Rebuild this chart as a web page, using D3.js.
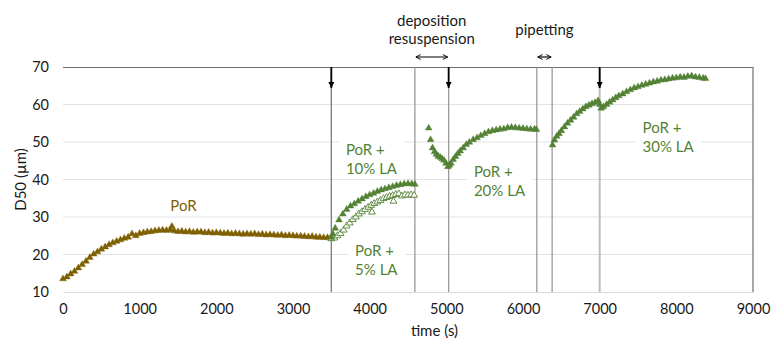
<!DOCTYPE html>
<html>
<head>
<meta charset="utf-8">
<script src="https://cdn.jsdelivr.net/npm/d3@7"></script>
<style>
  body { margin: 0; background: #fff; }
  svg { font-family: Lato, "Open Sans", sans-serif; }
</style>
</head>
<body>
<div id="chart"></div>
<script>
// measured data: [time (s), D50 (µm)]
const porData = [
  [0,13.5],[50,14.0],[100,14.8],[150,15.5],[200,16.4],[250,17.3],[300,18.2],[350,19.2],[400,20.1],[450,20.7],
  [500,21.4],[550,22.0],[600,22.6],[650,23.1],[700,23.5],[750,23.9],[800,24.3],[850,24.6],[900,25.5],[950,25.0],
  [1000,25.6],[1050,25.8],[1100,26.0],[1150,26.1],[1200,26.3],[1250,26.4],[1300,26.5],[1350,26.4],[1400,26.6],[1420,27.5],
  [1450,26.3],[1500,26.1],[1550,26.2],[1600,26.0],[1650,26.1],[1700,25.9],[1750,26.0],[1800,26.0],[1850,25.8],[1900,25.9],
  [1950,25.7],[2000,25.8],[2050,25.7],[2100,25.6],[2150,25.7],[2200,25.5],[2250,25.6],[2300,25.5],[2350,25.4],[2400,25.5],
  [2450,25.4],[2500,25.5],[2550,25.3],[2600,25.4],[2650,25.2],[2700,25.3],[2750,25.2],[2800,25.1],[2850,25.2],[2900,25.0],
  [2950,25.1],[3000,25.0],[3050,24.9],[3100,24.9],[3150,24.8],[3200,24.7],[3250,24.8],[3300,24.6],[3350,24.6],[3400,24.5],
  [3450,24.5],[3500,24.3]
];
const la10Data = [
  [3500,24.6],[3520,25.5],[3550,27.0],[3600,29.2],[3650,30.8],[3700,32.0],[3750,32.9],[3800,33.5],[3850,34.2],[3900,34.8],
  [3950,35.4],[4000,35.9],[4050,36.3],[4100,36.8],[4150,37.2],[4200,37.5],[4250,37.8],[4300,38.1],[4350,38.4],[4400,38.6],
  [4450,38.8],[4500,38.9],[4550,38.8],[4590,38.7]
];
const la5Data = [
  [3500,24.2],[3540,24.4],[3580,25.0],[3620,25.6],[3660,26.5],[3700,27.6],[3740,28.4],[3780,29.3],[3820,30.0],[3860,30.8],
  [3900,31.4],[3940,32.0],[3980,32.6],[4020,33.1],[4030,31.3],[4060,33.6],[4100,34.0],[4140,34.4],[4180,34.9],[4220,35.2],
  [4260,35.5],[4300,35.7],[4310,34.2],[4340,36.0],[4380,36.2],[4420,35.6],[4460,35.9],[4500,35.8],[4540,35.9],[4580,35.8]
];
const la20Data = [
  [4770,53.7],[4795,50.6],[4820,48.4],[4845,47.4],[4870,46.7],[4895,46.2],[4920,45.9],[4945,45.5],[4970,45.1],[4995,44.3],
  [5020,43.4],[5040,43.8],[5060,44.3],[5090,45.3],[5120,46.1],[5150,46.9],[5180,47.6],[5220,48.4],[5260,49.3],[5300,49.9],
  [5350,50.6],[5400,51.1],[5450,51.7],[5500,52.2],[5550,52.7],[5600,53.0],[5650,53.2],[5700,53.4],[5750,53.5],[5800,53.8],
  [5850,53.9],[5900,53.8],[5950,53.7],[6000,53.6],[6050,53.5],[6100,53.4],[6150,53.4],[6175,53.3]
];
const la30Data = [
  [6385,49.2],[6410,50.5],[6440,51.5],[6470,52.2],[6500,53.0],[6540,54.0],[6580,55.0],[6620,55.8],[6660,56.6],[6700,57.5],
  [6740,58.1],[6780,58.8],[6820,59.4],[6860,59.8],[6900,60.2],[6940,60.5],[6980,61.0],[7000,60.0],[7020,59.0],[7050,59.4],
  [7090,60.0],[7130,60.6],[7170,61.2],[7210,61.8],[7250,62.3],[7300,62.8],[7350,63.4],[7400,63.9],[7450,64.4],[7500,64.7],
  [7550,65.1],[7600,65.4],[7650,65.7],[7700,66.0],[7750,66.2],[7800,66.5],[7850,66.6],[7900,66.8],[7950,67.0],[8000,67.1],
  [8050,67.3],[8100,67.2],[8150,67.5],[8200,67.6],[8250,67.3],[8300,67.2],[8350,67.0],[8380,66.9]
];

const xTicks = [0, 1000, 2000, 3000, 4000, 5000, 6000, 7000, 8000, 9000];
const yTicks = [10, 20, 30, 40, 50, 60, 70];

// vertical event lines (s) and LA addition times (down arrows)
const eventLines = [3500, 4590, 5030, 6180, 6380, 7000];
const additionTimes = [3500, 5030, 7000];
// spans with double arrows above the plot
const spans = [
  { from: 4590, to: 5030, lines: ["deposition", "resuspension"] },
  { from: 6180, to: 6380, lines: ["pipetting"] }
];
// series labels: [time, D50] anchor of first line
const seriesLabels = [
  { t: 1400, v: 31.5, lines: ["PoR"], color: "#7f6000", bg: false },
  { t: 3690, v: 46.5, lines: ["PoR +", "10% LA"], color: "#548235", bg: true },
  { t: 3810, v: 19.5, lines: ["PoR +", "5% LA"], color: "#548235", bg: true },
  { t: 5360, v: 40.8, lines: ["PoR +", "20% LA"], color: "#548235", bg: true },
  { t: 7560, v: 52.3, lines: ["PoR +", "30% LA"], color: "#548235", bg: true }
];

const W = 771, H = 342;
const margin = { top: 67, right: 18, bottom: 50, left: 63 };
const width = W - margin.left - margin.right;
const height = H - margin.top - margin.bottom;

const svg = d3.select("#chart").append("svg")
    .attr("width", W)
    .attr("height", H);

const defs = svg.append("defs");
defs.append("marker")
    .attr("id", "down")
    .attr("viewBox", "0 0 10 10")
    .attr("refX", 10).attr("refY", 5)
    .attr("markerWidth", 7).attr("markerHeight", 6)
    .attr("markerUnits", "userSpaceOnUse")
    .attr("orient", "auto")
    .append("path").attr("d", "M0,0L10,5L0,10Z").attr("fill", "#000");
defs.append("marker")
    .attr("id", "chev")
    .attr("viewBox", "0 0 10 10")
    .attr("refX", 9).attr("refY", 5)
    .attr("markerWidth", 6).attr("markerHeight", 7)
    .attr("markerUnits", "userSpaceOnUse")
    .attr("orient", "auto-start-reverse")
    .append("path").attr("d", "M1,1L9,5L1,9")
    .attr("fill", "none").attr("stroke", "#000").attr("stroke-width", 1.6);

const g = svg.append("g")
    .attr("transform", `translate(${margin.left},${margin.top})`);

const x = d3.scaleLinear().domain([0, 9000]).range([0, width]);
const y = d3.scaleLinear().domain([10, 70]).range([height, 0]);

// horizontal gridlines
g.append("g")
    .selectAll("line")
    .data(yTicks.filter(d => d > 10 && d < 70))
    .enter().append("line")
    .attr("x1", 0).attr("x2", width)
    .attr("y1", d => y(d)).attr("y2", d => y(d))
    .attr("stroke", "#e3e3e3").attr("stroke-width", 1);

// axes
const xAxis = g.append("g")
    .attr("transform", `translate(0,${height})`)
    .call(d3.axisBottom(x).tickValues(xTicks).tickSize(0).tickPadding(12).tickFormat(d3.format("d")));
xAxis.select(".domain").attr("stroke", "#d9d9d9");

const yAxis = g.append("g")
    .call(d3.axisLeft(y).tickValues(yTicks).tickSize(0).tickPadding(14));
yAxis.select(".domain").remove();

svg.selectAll(".tick text")
    .attr("font-family", "Lato, sans-serif")
    .attr("font-size", 14.5)
    .attr("fill", "#1a1a1a");

// top and right border
g.append("path")
    .attr("d", `M0,0.5H${width}V${height}`)
    .attr("fill", "none").attr("stroke", "#6f6f6f").attr("stroke-width", 1.2);

// event lines
g.append("g")
    .selectAll("line")
    .data(eventLines)
    .enter().append("line")
    .attr("x1", d => x(d)).attr("x2", d => x(d))
    .attr("y1", 0).attr("y2", height)
    .attr("stroke", (d, i) => i === 0 ? "#7a7a7a" : (d === 7000 ? "#bdbdbd" : "#9a9a9a"))
    .attr("stroke-width", d => d === 7000 ? 2 : 1.3);

// labels with white background
const labelG = g.append("g");
seriesLabels.forEach(l => {
    const tg = labelG.append("g");
    const txt = tg.append("text")
        .attr("x", x(l.t))
        .attr("y", y(l.v))
        .attr("fill", l.color)
        .attr("font-size", 15);
    l.lines.forEach((s, i) => {
        txt.append("tspan").attr("x", x(l.t)).attr("dy", i === 0 ? 0 : 19).text(s);
    });
    if (l.bg) {
        const bb = txt.node().getBBox();
        tg.insert("rect", "text")
            .attr("x", bb.x - 7).attr("y", bb.y - 2)
            .attr("width", bb.width + 14).attr("height", bb.height + 4)
            .attr("fill", "#fff");
    }
});

// series
const tri = d3.symbol().type(d3.symbolTriangle).size(20);
function drawSeries(data, color, open) {
    g.append("g")
        .selectAll("path")
        .data(data)
        .enter().append("path")
        .attr("d", tri)
        .attr("transform", d => `translate(${x(d[0])},${y(d[1])})`)
        .attr("fill", open ? "#fff" : color)
        .attr("stroke", color)
        .attr("stroke-width", open ? 0.9 : 0.4);
}
drawSeries(porData, "#7f6000", false);
drawSeries(la5Data, "#548235", true);
drawSeries(la10Data, "#548235", false);
drawSeries(la20Data, "#548235", false);
drawSeries(la30Data, "#548235", false);

// addition arrows
g.append("g")
    .selectAll("line")
    .data(additionTimes)
    .enter().append("line")
    .attr("x1", d => x(d)).attr("x2", d => x(d))
    .attr("y1", 0).attr("y2", 21)
    .attr("stroke", "#000").attr("stroke-width", 1.8)
    .attr("marker-end", "url(#down)");

// spans above the plot
spans.forEach(s => {
    g.append("line")
        .attr("x1", x(s.from) + 1).attr("x2", x(s.to) - 1)
        .attr("y1", -10).attr("y2", -10)
        .attr("stroke", "#000").attr("stroke-width", 1.2)
        .attr("marker-start", "url(#chev)")
        .attr("marker-end", "url(#chev)");
    const cx = (x(s.from) + x(s.to)) / 2;
    const t = g.append("text")
        .attr("text-anchor", "middle")
        .attr("font-size", 15)
        .attr("fill", "#1a1a1a");
    const y0 = s.lines.length === 2 ? -41 : -32;
    s.lines.forEach((line, i) => {
        t.append("tspan").attr("x", cx).attr("y", y0 + i * 18).text(line);
    });
});

// axis titles
svg.append("text")
    .attr("x", margin.left + x(4950) - 8)
    .attr("y", 336)
    .attr("text-anchor", "middle")
    .attr("font-size", 15)
    .attr("fill", "#1a1a1a")
    .text("time (s)");

svg.append("text")
    .attr("transform", `translate(26,${margin.top + height / 2}) rotate(-90)`)
    .attr("text-anchor", "middle")
    .attr("font-size", 15)
    .attr("fill", "#1a1a1a")
    .text("D50 (µm)");
</script>
</body>
</html>
